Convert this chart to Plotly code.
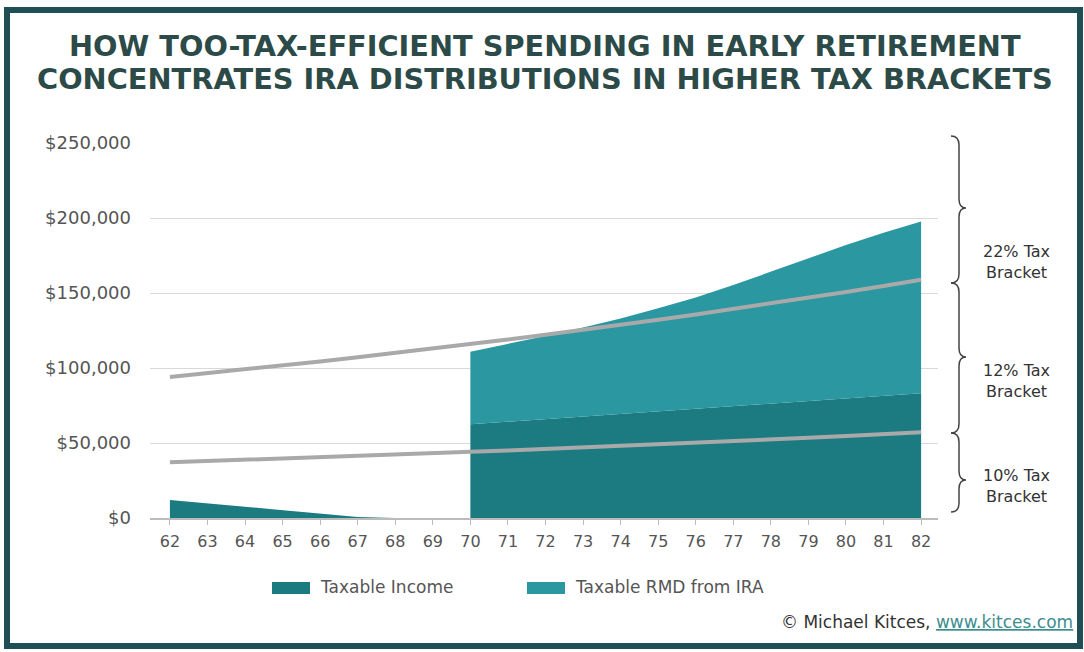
import plotly.graph_objects as go

# ---------------- data ----------------
ages_all = [62, 63, 64, 65, 66, 67, 68, 69, 70, 71, 72, 73, 74, 75, 76, 77, 78, 79, 80, 81, 82]
tick_labels = [str(a) for a in ages_all]

ages_early = [62, 63, 64, 65, 66, 67, 68, 69]
income_early = [12000, 9700, 7500, 5200, 3000, 700, 0, 0]

ages_late = [70, 71, 72, 73, 74, 75, 76, 77, 78, 79, 80, 81, 82]
income_late = [62500, 64200, 65900, 67600, 69300, 71000, 72800, 74500, 76200, 77900, 79600, 81300, 83100]
rmd_late = [48400, 51800, 55400, 59400, 63700, 68800, 74200, 80800, 88000, 95100, 102400, 108900, 114500]

bracket_12_top = [37100, 37900, 38700, 39600, 40400, 41300, 42200, 43100, 44100, 45000, 46000,
                  47000, 48000, 49100, 50200, 51300, 52400, 53500, 54700, 55900, 57100]
bracket_22_top = [94000, 96500, 99100, 101700, 104400, 107200, 110000, 112900, 115900, 119000, 122200,
                  125400, 128800, 132200, 135700, 139300, 143000, 146800, 150700, 154700, 158800]

y_ticks = [0, 50000, 100000, 150000, 200000, 250000]
y_tick_labels = ["$0", "$50,000", "$100,000", "$150,000", "$200,000", "$250,000"]
bracket_names = ["22% Tax<br>Bracket", "12% Tax<br>Bracket", "10% Tax<br>Bracket"]
legend_names = ["Taxable Income", "Taxable RMD from IRA"]

# ---------------- style ----------------
C_INCOME = "#1b7b81"
C_RMD = "#2a97a1"
C_LINE = "#a9a9a9"
C_TITLE = "#2c4b48"
C_TEXT = "#555555"
FONT = "DejaVu Sans"

W, H = 1084, 652
L, R, T, B = 150, 146, 143, 134
PW, PH = W - L - R, H - T - B


def px(x):
    return (x - L) / PW


def py(y):
    return (H - B - y) / PH


fig = go.Figure()

fig.add_trace(go.Scatter(x=ages_early, y=income_early, stackgroup="early", mode="lines",
                         line=dict(width=0), fillcolor=C_INCOME, name=legend_names[0],
                         showlegend=False, hoverinfo="skip"))
fig.add_trace(go.Scatter(x=ages_late, y=income_late, stackgroup="late", mode="lines",
                         line=dict(width=0), fillcolor=C_INCOME, name=legend_names[0],
                         showlegend=False))
fig.add_trace(go.Scatter(x=ages_late, y=rmd_late, stackgroup="late", mode="lines",
                         line=dict(width=0), fillcolor=C_RMD, name=legend_names[1],
                         showlegend=False))
fig.add_trace(go.Scatter(x=ages_all, y=bracket_12_top, mode="lines",
                         line=dict(color=C_LINE, width=4), showlegend=False))
fig.add_trace(go.Scatter(x=ages_all, y=bracket_22_top, mode="lines",
                         line=dict(color=C_LINE, width=4), showlegend=False))

shapes = []
annotations = []

# frame
shapes.append(dict(type="rect", xref="paper", yref="paper",
                   x0=px(7), x1=px(1080), y0=py(646), y1=py(10),
                   line=dict(color="#1f4e54", width=6), layer="above"))


def brace(top, tip, bot, xe=951, xs=959, xt=966, r=9):
    pts = [
        f"M {px(xe)},{py(top)}",
        f"Q {px(xs)},{py(top)} {px(xs)},{py(top + r)}",
        f"L {px(xs)},{py(tip - r)}",
        f"Q {px(xs)},{py(tip)} {px(xt)},{py(tip)}",
        f"Q {px(xs)},{py(tip)} {px(xs)},{py(tip + r)}",
        f"L {px(xs)},{py(bot - r)}",
        f"Q {px(xs)},{py(bot)} {px(xe)},{py(bot)}",
    ]
    return dict(type="path", xref="paper", yref="paper", path=" ".join(pts),
                line=dict(color="#444444", width=1.5))


for (top, tip, bot), name, ly in zip([(136, 208, 283), (283, 357, 433), (433, 480, 512)],
                                      bracket_names, [262, 381, 486]):
    shapes.append(brace(top, tip, bot))
    annotations.append(dict(xref="paper", yref="paper", x=px(1016), y=py(ly), text=name,
                            showarrow=False, xanchor="center", yanchor="middle", align="center",
                            font=dict(family=FONT, size=16, color="#333333")))

# title
for txt, y in [("HOW TOO-TAX-EFFICIENT SPENDING IN EARLY RETIREMENT", 46),
               ("CONCENTRATES IRA DISTRIBUTIONS IN HIGHER TAX BRACKETS", 79)]:
    annotations.append(dict(xref="paper", yref="paper", x=px(545), y=py(y), text=f"<b>{txt}</b>",
                            showarrow=False, xanchor="center", yanchor="middle",
                            font=dict(family=FONT, size=28.8, color=C_TITLE)))

# legend
for name, col, x0 in zip(legend_names, [C_INCOME, C_RMD], [272, 527]):
    shapes.append(dict(type="rect", xref="paper", yref="paper", x0=px(x0), x1=px(x0 + 38),
                       y0=py(594), y1=py(582), fillcolor=col, line=dict(width=0)))
    annotations.append(dict(xref="paper", yref="paper", x=px(x0 + 46), y=py(587), text=name,
                            showarrow=False, xanchor="left", yanchor="middle",
                            font=dict(family=FONT, size=17, color=C_TEXT)))

# copyright
annotations.append(dict(xref="paper", yref="paper", x=px(1075), y=py(622),
                        text="© Michael Kitces, <span style='color:#3d8d8f'><u>www.kitces.com</u></span>",
                        showarrow=False, xanchor="right", yanchor="middle",
                        font=dict(family=FONT, size=17, color="#333333")))

fig.update_layout(
    width=W, height=H,
    margin=dict(l=L, r=R, t=T, b=B),
    paper_bgcolor="white", plot_bgcolor="white",
    showlegend=False,
    shapes=shapes, annotations=annotations,
    xaxis=dict(range=[61.47, 82.45], tickmode="array", tickvals=ages_all, ticktext=tick_labels,
               showgrid=False, zeroline=False, showline=True, linecolor="#bbbbbb", linewidth=1.5,
               ticks="outside", ticklen=5, tickcolor="#bbbbbb", ticklabelstandoff=3,
               tickfont=dict(family=FONT, size=16, color=C_TEXT), fixedrange=True),
    yaxis=dict(range=[0, 250000], tickmode="array", tickvals=y_ticks, ticktext=y_tick_labels,
               showgrid=True, gridcolor="#d9d9d9", gridwidth=1, zeroline=False,
               ticklabelstandoff=18, tickfont=dict(family=FONT, size=18, color=C_TEXT),
               fixedrange=True),
)

fig.write_html("out.html", config={"displayModeBar": False},
               post_script="document.body.style.margin='0';")
